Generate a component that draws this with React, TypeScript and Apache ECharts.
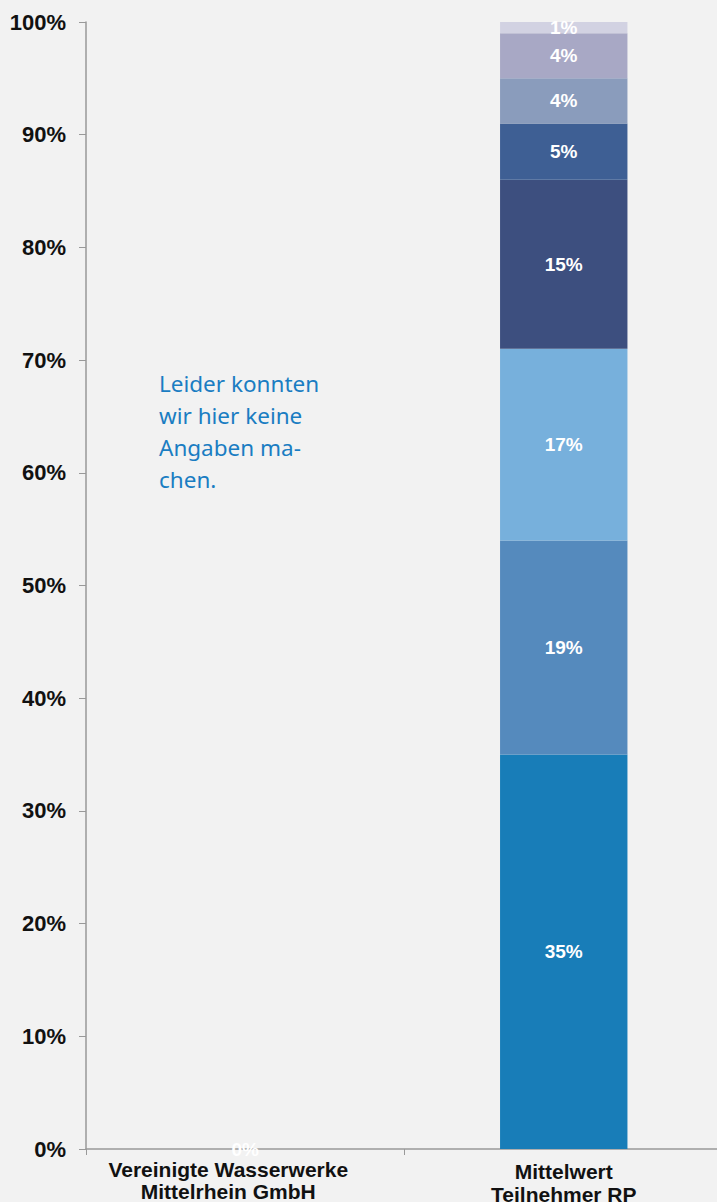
import React, { useEffect, useRef } from "react";
import * as echarts from "echarts";

const categories = ["Vereinigte Wasserwerke\nMittelrhein GmbH", "Mittelwert\nTeilnehmer RP"];
const seriesNames = ["s1", "s2", "s3", "s4", "s5", "s6", "s7", "s8"];
const seriesValues: number[][] = [
  [0, 35],
  [0, 19],
  [0, 17],
  [0, 15],
  [0, 5],
  [0, 4],
  [0, 4],
  [0, 1],
];
const seriesColors = ["#187db8", "#558abd", "#77b0dc", "#3d4f7f", "#3e5f94", "#8a9cbc", "#a8a8c5", "#d2d2e2"];
const yTicks = [0, 10, 20, 30, 40, 50, 60, 70, 80, 90, 100];
const noteText = "Leider konnten\nwir hier keine\nAngaben ma-\nchen.";

const FONT = "'Liberation Sans', Arial, sans-serif";

export default function App() {
  const ref = useRef<HTMLDivElement>(null);
  useEffect(() => {
    if (!ref.current) return;
    const chart = echarts.init(ref.current, null, { renderer: "svg" });
    const series = seriesNames.map((name, i) => ({
      name,
      type: "bar",
      stack: "total",
      barWidth: "40%",
      itemStyle: { color: seriesColors[i] },
      label: {
        show: true,
        position: "inside",
        color: "#ffffff",
        fontWeight: "bold",
        fontSize: 19,
        fontFamily: FONT,
        formatter: (p: any) => `${p.value}%`,
      },
      data: seriesValues[i].map((v, j) =>
        j === 0 && i > 0 ? { value: v, label: { show: false } } : v
      ),
    }));
    const labelStyle = {
      color: "#111111",
      fontWeight: "bold",
      fontSize: 21,
      fontFamily: FONT,
    };
    chart.setOption({
      animation: false,
      backgroundColor: "#f2f2f2",
      grid: {
        left: 86,
        width: 637,
        top: 22,
        bottom: 53,
        containLabel: false,
        outerBoundsMode: "none",
      },
      xAxis: {
        type: "category",
        data: categories,
        axisLine: { lineStyle: { color: "#999999", width: 1.5 } },
        axisTick: { show: true, length: 6, lineStyle: { color: "#999999" } },
        axisLabel: {
          ...labelStyle,
          lineHeight: 22,
          margin: 9,
          interval: 0,
          formatter: (v: string, idx: number) => {
            const key = idx === 0 ? "a" : "b";
            return v
              .split("\n")
              .map((s) => `{${key}|${s}}`)
              .join("\n");
          },
          rich: {
            a: { ...labelStyle, lineHeight: 22, padding: [0, 34, 0, 0] },
            b: { ...labelStyle, lineHeight: 23, padding: [3, 0, 0, 0] },
          },
        },
      },
      yAxis: {
        type: "value",
        min: 0,
        max: 100,
        interval: 10,
        splitLine: { show: false },
        axisLine: { show: true, lineStyle: { color: "#999999", width: 1.5 } },
        axisTick: { show: true, length: 7, lineStyle: { color: "#999999" } },
        axisLabel: {
          ...labelStyle,
          fontSize: 22,
          margin: 20,
          formatter: (v: number) => (yTicks.includes(v) ? `${v}%` : ""),
        },
      },
      graphic: [
        {
          type: "text",
          left: 159,
          top: 367,
          style: {
            text: noteText,
            fill: "#1a7dc2",
            font: "22.5px 'Noto Sans', 'Open Sans', sans-serif",
            lineHeight: 32,
          },
        },
      ],
      series,
    });
    return () => chart.dispose();
  }, []);
  return (
    <div
      ref={ref}
      style={{ position: "fixed", left: 0, top: 0, width: 717, height: 1202 }}
    />
  );
}
